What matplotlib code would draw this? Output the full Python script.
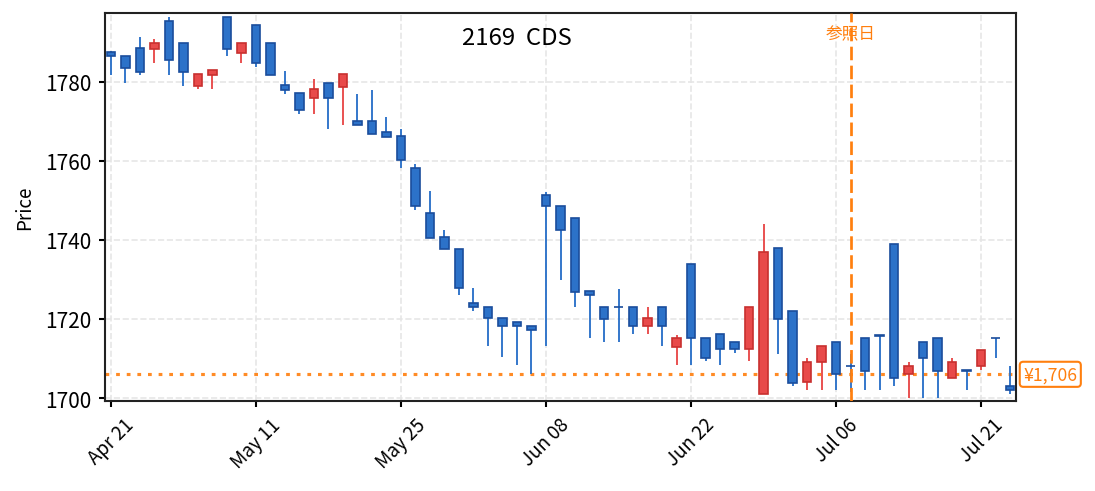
import pandas as pd
import matplotlib.pyplot as plt
from matplotlib.patches import Rectangle

plt.rcParams['font.family'] = ['Noto Sans CJK JP', 'DejaVu Sans']

# JPX trading days, Apr 21 - Jul 23 2026
holidays = ['2026-04-29', '2026-05-04', '2026-05-05', '2026-05-06', '2026-07-20']
dates = pd.bdate_range('2026-04-21', '2026-07-23', freq='C', holidays=holidays)

opens = [1787.6, 1786.6, 1788.6, 1788.4, 1795.4, 1789.7, 1779.0, 1781.7, 1796.5, 1787.4,
         1794.4, 1789.7, 1779.1, 1777.1, 1775.9, 1779.8, 1778.8, 1770.1, 1770.2, 1767.2,
         1766.2, 1758.2, 1746.7, 1740.8, 1737.7, 1724.1, 1723.0, 1720.3, 1719.2, 1718.2,
         1751.4, 1748.7, 1745.6, 1727.1, 1723.0, 1723.1, 1723.0, 1718.1, 1723.0, 1713.0,
         1734.0, 1715.3, 1716.2, 1714.2, 1712.3, 1700.9, 1738.0, 1722.0, 1704.0, 1709.0,
         1714.2, 1708.2, 1715.2, 1715.9, 1739.0, 1706.0, 1714.2, 1715.2, 1705.0, 1707.0,
         1708.0, 1715.2, 1703.0]
highs = [1787.8, 1786.6, 1791.3, 1790.7, 1796.4, 1789.7, 1782.0, 1782.9, 1796.5, 1789.7,
         1794.4, 1789.7, 1782.7, 1777.1, 1780.7, 1779.8, 1781.9, 1776.9, 1777.9, 1771.1,
         1768.0, 1759.1, 1752.3, 1742.5, 1737.7, 1727.8, 1723.0, 1720.3, 1719.2, 1718.2,
         1752.2, 1748.7, 1745.6, 1727.1, 1723.0, 1727.7, 1723.0, 1722.9, 1723.0, 1716.0,
         1734.0, 1715.3, 1716.2, 1714.2, 1723.0, 1744.0, 1738.0, 1722.0, 1710.0, 1713.2,
         1714.2, 1711.1, 1715.2, 1715.9, 1739.0, 1709.1, 1714.2, 1715.2, 1710.0, 1707.0,
         1712.2, 1715.2, 1708.0]
lows = [1781.8, 1779.8, 1781.8, 1784.8, 1781.8, 1779.0, 1778.1, 1778.1, 1786.6, 1784.8,
        1783.8, 1781.6, 1777.0, 1771.9, 1771.9, 1768.1, 1769.1, 1769.0, 1766.9, 1766.0,
        1758.2, 1747.6, 1740.6, 1737.6, 1726.1, 1722.0, 1713.2, 1710.4, 1708.4, 1706.0,
        1713.2, 1729.9, 1723.0, 1715.2, 1714.2, 1714.2, 1716.2, 1716.2, 1713.2, 1708.4,
        1708.4, 1709.4, 1708.4, 1711.4, 1709.4, 1700.9, 1711.1, 1703.0, 1702.0, 1702.0,
        1702.0, 1701.5, 1702.0, 1702.0, 1703.0, 1700.0, 1700.0, 1700.0, 1705.0, 1702.0,
        1707.0, 1710.1, 1700.9]
closes = [1786.5, 1783.6, 1782.6, 1789.7, 1785.6, 1782.6, 1782.0, 1782.9, 1788.4, 1789.7,
          1784.7, 1781.6, 1777.8, 1772.8, 1778.1, 1775.8, 1781.9, 1769.0, 1766.9, 1766.0,
          1760.1, 1748.5, 1740.6, 1737.6, 1727.8, 1723.0, 1720.2, 1718.2, 1718.2, 1717.1,
          1748.5, 1742.4, 1726.9, 1726.0, 1720.1, 1722.9, 1718.1, 1720.3, 1718.1, 1715.2,
          1715.1, 1710.2, 1712.3, 1712.3, 1723.0, 1737.0, 1719.9, 1703.9, 1709.1, 1713.2,
          1706.0, 1708.1, 1706.9, 1715.8, 1705.0, 1708.1, 1710.1, 1706.9, 1709.1, 1706.9,
          1712.2, 1715.1, 1702.0]

ticker = "2169  CDS"
ref_index = 51          # 2026-07-07
ref_price = 1706

up_face, up_edge = '#e84a4a', '#c8302f'
down_face, down_edge = '#2c72c9', '#1a4d9c'
orange = '#ff7f0e'

fig = plt.figure(figsize=(7.3, 3.28), dpi=150)
ax = fig.add_axes([105 / 1095, 1 - 402.3 / 492, 911 / 1095, 388.3 / 492])

w = 0.6
for i in range(len(dates)):
    o, h, l, c = opens[i], highs[i], lows[i], closes[i]
    up = c >= o
    face = up_face if up else down_face
    edge = up_edge if up else down_edge
    ax.vlines(i, l, h, color=face, lw=0.9, zorder=2)
    ax.add_patch(Rectangle((i - w / 2, min(o, c)), w, max(abs(c - o), 0.05),
                           facecolor=face, edgecolor=edge, lw=0.8, zorder=3))

ax.axhline(ref_price, color=orange, ls=(0, (1.2, 2.2)), lw=1.5, alpha=0.9, zorder=1)
ax.axvline(ref_index, color=orange, ls=(0, (5, 2)), lw=1.3, zorder=4)
ax.text(ref_index, 1792.2, '参照日', color=orange, fontsize=8, ha='center', va='center')
ax.text(1.008, ref_price, f'¥{ref_price:,}', transform=ax.get_yaxis_transform(),
        color=orange, fontsize=8.5, ha='left', va='center',
        bbox=dict(boxstyle='round,pad=0.2', fc='white', ec=orange, lw=1.0))

ax.text(0.4517, 0.936, ticker, transform=ax.transAxes, fontsize=11.5,
        ha='center', va='center')

ax.set_xlim(-0.41, len(dates) - 0.59)
ax.set_ylim(1699.17, 1797.4)
ticks = list(range(0, len(dates), 10))
ax.set_xticks(ticks)
ax.set_xticklabels([dates[t].strftime('%b %d') for t in ticks], rotation=45, fontsize=9)
ax.set_yticks([1700, 1720, 1740, 1760, 1780])
ax.tick_params(axis='y', labelsize=10, length=3, width=1)
ax.tick_params(axis='x', length=3, width=1, pad=3)
ax.set_ylabel('Price', fontsize=9)
ax.yaxis.set_label_coords(-0.077, 0.5)
ax.grid(True, ls='--', color='#e6e6e6', lw=0.8)
ax.set_axisbelow(True)
for s in ax.spines.values():
    s.set_linewidth(1.0)
    s.set_color('#222222')

fig.savefig('out.png', dpi=150)
